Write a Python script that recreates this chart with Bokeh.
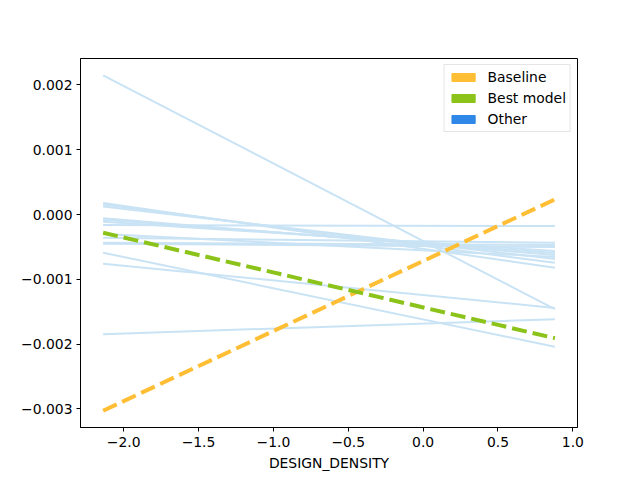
from bokeh.plotting import figure
from bokeh.models import (Range1d, FixedTicker, CustomJSTickFormatter, Legend,
                          LegendItem, ColumnDataSource)
from bokeh.embed import file_html
from bokeh.resources import INLINE

# ---- data ----
x_pts = [-2.137, 0.88]

other_start = [0.002149, 0.000177, 0.000154, 0.000126, -0.0000585, -0.00008,
               -0.000111, -0.000162, -0.0003, -0.000357, -0.000435, -0.00045,
               -0.000589, -0.000758, -0.001846]
other_end = [-0.001461, -0.000820, -0.000743, -0.000686, -0.000624, -0.000593,
             -0.000562, -0.000177, -0.000655, -0.000435, -0.000470, -0.000501,
             -0.002042, -0.001441, -0.001615]

baseline = [-0.003028, 0.000234]
best_model = [-0.00028, -0.001908]

x_ticks = [-2.0, -1.5, -1.0, -0.5, 0.0, 0.5, 1.0]
y_ticks = [-0.003, -0.002, -0.001, 0.0, 0.001, 0.002]
legend_labels = ["Baseline", "Best model", "Other"]

C_BASE = "#FFBE33"
C_BEST = "#8CC31A"
C_OTHER = "#2F87E7"
C_OTHER_LIGHT = "#C9E3F5"

FONT = "DejaVu Sans"

p = figure(frame_width=497, frame_height=369, output_backend="svg",
           toolbar_location=None,
           x_range=Range1d(-2.288, 1.031), y_range=Range1d(-0.003287, 0.002409),
           min_border_left=80, min_border_right=55, min_border_top=58,
           min_border_bottom=45, background_fill_color="white",
           border_fill_color="white")

p.xgrid.visible = False
p.ygrid.visible = False
p.outline_line_color = "black"
p.outline_line_width = 1

# other lines
xs = [x_pts for _ in other_start]
ys = [[s, e] for s, e in zip(other_start, other_end)]
p.multi_line(xs=xs, ys=ys, line_color=C_OTHER_LIGHT, line_width=2)

p.line(x=x_pts, y=baseline, line_color=C_BASE, line_width=4, line_dash="15 6")
p.line(x=x_pts, y=best_model, line_color=C_BEST, line_width=4, line_dash="15 6")

# legend patches (renderers with one point outside the visible range)
r_items = []
for lab, col in zip(legend_labels, [C_BASE, C_BEST, C_OTHER]):
    src = ColumnDataSource(dict(x=[100.0], y=[100.0]))
    r = p.rect(x="x", y="y", width=1, height=1, source=src,
               fill_color=col, line_color=col)
    r_items.append(LegendItem(label=lab, renderers=[r]))

legend = Legend(items=r_items, location="top_right")
legend.label_text_font = FONT
legend.label_text_font_size = "13.9px"
legend.label_text_color = "black"
legend.glyph_width = 29
legend.glyph_height = 10
legend.label_height = 14
legend.spacing = 5
legend.padding = 4
legend.label_standoff = 10
legend.margin = 6
legend.border_line_color = "#cccccc"
legend.border_line_width = 1
legend.background_fill_alpha = 0.8
p.add_layout(legend)

fmt_y = CustomJSTickFormatter(code="""
    var s = Math.abs(tick).toFixed(3);
    return (tick < -1e-12 ? '\u2212' : '') + s;
""")
fmt_x = CustomJSTickFormatter(code="""
    var s = Math.abs(tick).toFixed(1);
    return (tick < -1e-12 ? '\u2212' : '') + s;
""")

for ax in (p.xaxis[0], p.yaxis[0]):
    ax.major_tick_in = 0
    ax.major_tick_out = 4
    ax.minor_tick_in = 0
    ax.minor_tick_out = 0
    ax.axis_line_color = "black"
    ax.major_tick_line_color = "black"
    ax.major_label_text_font = FONT
    ax.major_label_text_font_size = "13.9px"
    ax.major_label_text_color = "black"
    ax.axis_label_text_font = FONT
    ax.axis_label_text_font_size = "13.9px"
    ax.axis_label_text_font_style = "normal"
    ax.axis_label_text_color = "black"

p.xaxis[0].ticker = FixedTicker(ticks=x_ticks)
p.yaxis[0].ticker = FixedTicker(ticks=y_ticks)
p.xaxis[0].formatter = fmt_x
p.yaxis[0].formatter = fmt_y
p.xaxis[0].axis_label = "DESIGN_DENSITY"
p.xaxis[0].major_label_standoff = 5
p.xaxis[0].axis_label_standoff = 5
p.yaxis[0].major_label_standoff = 4

open("out.html", "w").write(file_html(p, INLINE))
